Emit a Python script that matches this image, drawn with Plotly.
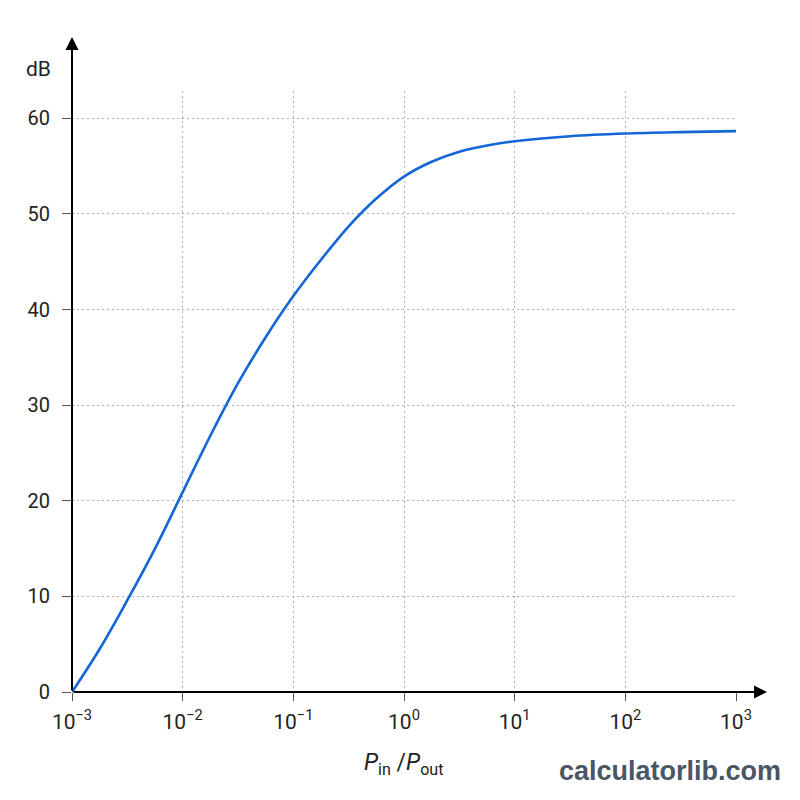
import plotly.graph_objects as go

# Data (x = P_in/P_out ratio as log10 exponent, y = dB)
log_ratio = [-3.0, -2.75, -2.5, -2.25, -2.0, -1.75, -1.5, -1.25, -1.0, -0.75, -0.5,
             -0.25, 0.0, 0.25, 0.5, 0.75, 1.0, 1.5, 2.0, 2.5, 3.0]
db = [0, 4.5, 9.6, 15.0, 20.9, 26.8, 32.3, 37.1, 41.4, 45.2, 48.7,
      51.6, 53.9, 55.45, 56.5, 57.15, 57.6, 58.12, 58.4, 58.55, 58.65]
ratio = [10 ** v for v in log_ratio]

x_tickvals = [1e-3, 1e-2, 1e-1, 1e0, 1e1, 1e2, 1e3]
x_ticktext = ["10<sup>−3</sup>", "10<sup>−2</sup>", "10<sup>−1</sup>", "10<sup>0</sup>",
              "10<sup>1</sup>", "10<sup>2</sup>", "10<sup>3</sup>"]
y_tickvals = [0, 10, 20, 30, 40, 50, 60]

FONT = "Roboto"
L, R, T, B = 72, 64, 91, 108
W, H = 800, 800
pw, ph = W - L - R, H - T - B

fig = go.Figure()
fig.add_trace(go.Scatter(x=ratio, y=db, mode="lines",
                         line=dict(color="#1466d6", width=2.6, shape="spline", smoothing=1.0),
                         hoverinfo="skip", showlegend=False))

fig.update_layout(
    width=W, height=H,
    margin=dict(l=L, r=R, t=T, b=B),
    paper_bgcolor="white", plot_bgcolor="white",
    font=dict(family=FONT, color="#222222", size=20),
    xaxis=dict(type="log", range=[-3, 3], tickvals=x_tickvals, ticktext=x_ticktext,
               showgrid=True, gridcolor="#b0b0b0", griddash="2px,3px", gridwidth=1,
               zeroline=False, showline=False, ticks="outside", ticklen=8,
               tickcolor="#555555", tickwidth=1, ticklabelstandoff=3,
               tickfont=dict(size=21, family=FONT, color="#222222")),
    yaxis=dict(range=[0, 62.85], tickvals=y_tickvals,
               showgrid=True, gridcolor="#b0b0b0", griddash="2px,3px", gridwidth=1,
               zeroline=False, showline=False, ticks="outside", ticklen=9,
               tickcolor="#555555", tickwidth=1, ticklabelstandoff=8,
               tickfont=dict(size=20, family=FONT, color="#222222")),
)

# axes with arrowheads
x_tip = (767 - L) / pw
y_tip = (H - B - 37) / ph
fig.add_annotation(xref="paper", yref="paper", x=x_tip, y=0, ax=-(767 - L), ay=0,
                   axref="pixel", ayref="pixel", showarrow=True, arrowhead=2,
                   arrowsize=1.3, arrowwidth=2, arrowcolor="black", text="")
fig.add_annotation(xref="paper", yref="paper", x=0, y=y_tip, ax=0, ay=(H - B - 37),
                   axref="pixel", ayref="pixel", showarrow=True, arrowhead=2,
                   arrowsize=1.3, arrowwidth=2, arrowcolor="black", text="")

# axis titles
fig.add_annotation(xref="paper", yref="paper", x=(38 - L) / pw, y=(H - B - 69) / ph,
                   text="dB", showarrow=False, font=dict(size=21, family=FONT, color="#222222"),
                   xanchor="center", yanchor="middle")
fig.add_annotation(xref="paper", yref="paper", x=(404 - L) / pw, y=(H - B - 764) / ph,
                   text="<i>P</i><sub>in</sub> /<i>P</i><sub>out</sub>", showarrow=False,
                   font=dict(size=23, family=FONT, color="#222222"),
                   xanchor="center", yanchor="middle")

# watermark
fig.add_annotation(xref="paper", yref="paper", x=(783 - L) / pw, y=(H - B - 771) / ph,
                   text="<b>calculatorlib.com</b>", showarrow=False,
                   font=dict(size=27, family="Liberation Sans", color="#4b5563"),
                   xanchor="right", yanchor="middle")

fig.write_html("out.html")
